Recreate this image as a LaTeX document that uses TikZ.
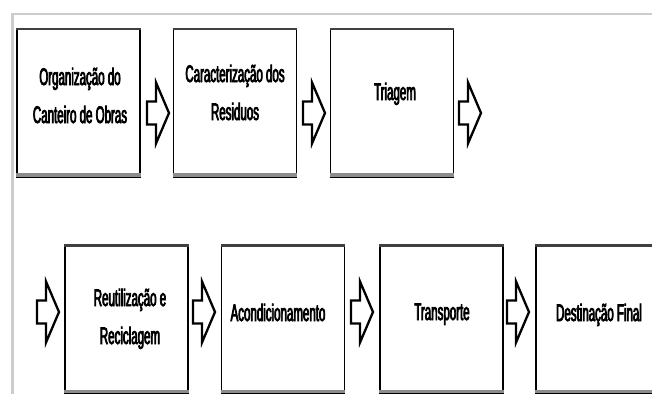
\documentclass[tikz,border=0pt]{standalone}
\usepackage{fontspec}
\newfontfamily\boxfont[FakeStretch=0.48,FakeBold=3]{Liberation Sans}
\tikzset{
  stepbox/.style={draw=black, line width=1.2pt, fill=white, minimum width=123pt, minimum height=148pt, inner sep=0pt},
  steptext/.style={font=\boxfont\fontsize{24}{38}\selectfont, align=center, inner sep=0pt, text=black},
  blockarr/.style={draw=black, line width=2.3pt, fill=white, line join=miter},
  frameline/.style={draw=black!20, line width=2.5pt}
}
\newcommand\blockarrow[2]{%
  \draw[blockarr] (#1,{#2-11.5}) -- ({#1+9},{#2-11.5}) -- ({#1+9},{#2-30.5}) -- ({#1+22},#2)
    -- ({#1+9},{#2+30.5}) -- ({#1+9},{#2+11.5}) -- (#1,{#2+11.5}) -- cycle;}
\begin{document}
\begin{tikzpicture}[x=1pt,y=-1pt]
\useasboundingbox (0,0) rectangle (652,394);
\clip (0,0) rectangle (652,394);
\fill[white] (0,0) rectangle (652,394);
\coordinate (fc) at (12.5,14);
\coordinate (fr) at (652,14);
\coordinate (fb) at (12.5,394);
\draw[frameline] (fr) -- (fc) -- (fb);
% row 1
\node[stepbox] (b1) at (78.5,102.5) {};
\node[stepbox] (b2) at (235,102.5) {};
\node[stepbox] (b3) at (392,102.5) {};
% row 2
\node[stepbox] (b4) at (126.5,319) {};
\node[stepbox] (b5) at (283,319) {};
\node[stepbox] (b6) at (441.5,319) {};
\node[stepbox] (b7) at (597.5,319) {};
\foreach \n in {b1,b2,b3,b4,b5,b6,b7}{
  \fill[black!75] ([yshift=-2.5pt]\n.north west) rectangle (\n.north east);
  \fill[black!45] (\n.south west) rectangle ([yshift=4pt]\n.south east);
  \draw[black, line width=1.2pt] (\n.south west) -- (\n.south east);
}
% texts
\node[steptext, anchor=base] (t1) at (80,123) {Organização do\\Canteiro de Obras};
\node[steptext, anchor=base] (t2) at (235,120) {Caracterização dos\\Residuos};
\node[steptext, anchor=base] (t3) at (395,100) {Triagem};
\node[steptext, anchor=base] (t4) at (130,344) {Reutilização e\\Reciclagem};
\node[steptext, anchor=base] (t5) at (278,321) {Acondicionamento};
\node[steptext, anchor=base] (t6) at (442,320) {Transporte};
\node[steptext, anchor=base] (t7) at (599,321) {Destinação Final};
% arrows
\blockarrow{147}{113}
\blockarrow{303}{113}
\blockarrow{459}{113}
\blockarrow{37}{312}
\blockarrow{193}{312}
\blockarrow{351}{312}
\blockarrow{507}{312}
\end{tikzpicture}
\end{document}
